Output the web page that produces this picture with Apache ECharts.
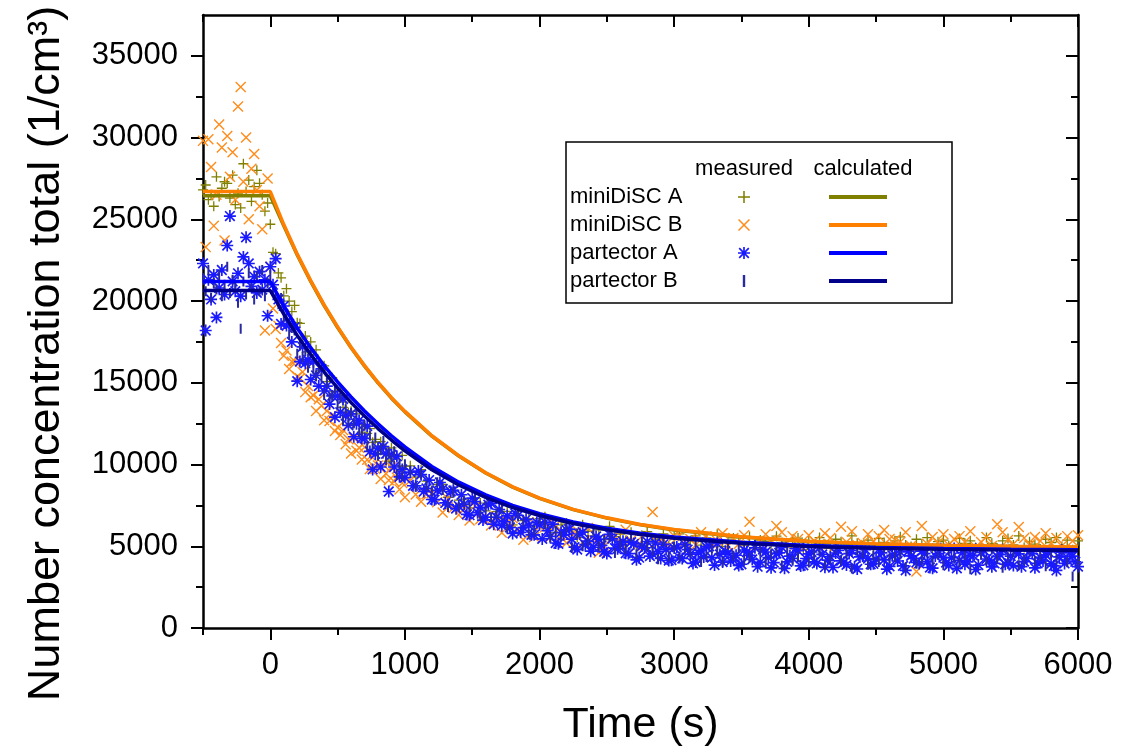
<!DOCTYPE html>
<html>
<head>
<meta charset="utf-8">
<script src="https://cdn.jsdelivr.net/npm/echarts@6.0.0/dist/echarts.min.js"></script>
<style>
  html, body { margin: 0; padding: 0; background: #fff; }
  #chart { width: 1143px; height: 755px; }
</style>
</head>
<body>
<div id="chart"></div>
<script>
// sampling times of the measured series (s)
const sampleTimes = [
  -500, -480, -460, -440, -420, -400, -380, -360, -340, -320,
  -300, -280, -260, -240, -220, -200, -180, -160, -140, -120,
  -100, -80, -60, -40, -20, 0, 20, 40, 60, 80,
  100, 120, 140, 160, 180, 200, 220, 240, 260, 280,
  300, 320, 340, 360, 380, 400, 420, 440, 460, 480,
  500, 520, 540, 560, 580, 600, 620, 640, 660, 680,
  700, 720, 740, 760, 780, 800, 820, 840, 860, 880,
  900, 920, 940, 960, 980, 1000,
  1040, 1080, 1120, 1160, 1200, 1240, 1280, 1320, 1360, 1400,
  1440, 1480, 1520, 1560, 1600, 1640, 1680, 1720, 1760, 1800,
  1840, 1880, 1920, 1960, 2000, 2040, 2080, 2120, 2160, 2200,
  2240, 2280, 2320, 2360, 2400, 2440, 2480, 2520, 2560, 2600,
  2640, 2680, 2720, 2760, 2800, 2840, 2880, 2920, 2960, 3000,
  3040, 3080, 3120, 3160, 3200, 3240, 3280, 3320, 3360, 3400,
  3440, 3480, 3520, 3560, 3600, 3640, 3680, 3720, 3760, 3800,
  3840, 3880, 3920, 3960, 4000, 4040, 4080, 4120, 4160, 4200,
  4240, 4280, 4320, 4360, 4400, 4440, 4480, 4520, 4560, 4600,
  4640, 4680, 4720, 4760, 4800, 4840, 4880, 4920, 4960, 5000,
  5040, 5080, 5120, 5160, 5200, 5240, 5280, 5320, 5360, 5400,
  5440, 5480, 5520, 5560, 5600, 5640, 5680, 5720, 5760, 5800,
  5840, 5880, 5920, 5960, 6000
];

// partector A logs twice as often after the first 1000 s
const extraTimes = [
  1060, 1100, 1140, 1180, 1220, 1260, 1300, 1340, 1380, 1420,
  1460, 1500, 1540, 1580, 1620, 1660, 1700, 1740, 1780, 1820,
  1860, 1900, 1940, 1980, 2020, 2060, 2100, 2140, 2180, 2220,
  2260, 2300, 2340, 2380, 2420, 2460, 2500, 2540, 2580, 2620,
  2660, 2700, 2740, 2780, 2820, 2860, 2900, 2940, 2980, 3020,
  3060, 3100, 3140, 3180, 3220, 3260, 3300, 3340, 3380, 3420,
  3460, 3500, 3540, 3580, 3620, 3660, 3700, 3740, 3780, 3820,
  3860, 3900, 3940, 3980, 4020, 4060, 4100, 4140, 4180, 4220,
  4260, 4300, 4340, 4380, 4420, 4460, 4500, 4540, 4580, 4620,
  4660, 4700, 4740, 4780, 4820, 4860, 4900, 4940, 4980, 5020,
  5060, 5100, 5140, 5180, 5220, 5260, 5300, 5340, 5380, 5420,
  5460, 5500, 5540, 5580, 5620, 5660, 5700, 5740, 5780, 5820,
  5860, 5900, 5940, 5980
];

// measured number concentration (1/cm3)
const miniDiscA = [
  26800, 27100, 26200, 26500, 25800, 27600, 26400, 26900, 27300, 27200,
  26300, 27700, 25900, 26600, 25700, 28400, 26700, 27400, 26100, 27000,
  28000, 27200, 26500, 25500, 26000, 24700, 22980, 22900, 21720, 21420,
  20320, 20760, 20000, 19360, 19740, 18680, 18630, 17740, 17860, 16900,
  17500, 16720, 17020, 16240, 15750, 16040, 15070, 15420, 15310, 14470,
  14240, 14560, 13500, 13820, 13180, 13260, 12460, 13100, 12720, 11980,
  12440, 11900, 12200, 11360, 11540, 11120, 11400, 10660, 10940, 10200,
  11020, 10350, 10520, 9910, 10560, 9890,
  9920, 9230, 9680, 8990, 8420, 8780, 8780, 8000, 8600, 7820,
  7880, 7340, 7940, 7640, 7160, 7770, 7120, 6710, 7140, 6310,
  7130, 6570, 6670, 6230, 6690, 6810, 6140, 5840, 6310, 6430,
  6000, 5530, 6320, 5920, 5630, 6000, 5410, 6220, 5590, 5740,
  5350, 5860, 5040, 5670, 5890, 5330, 5430, 5760, 5020, 5600,
  5760, 5200, 5340, 5630, 5070, 5510, 5200, 5740, 4980, 5370,
  5510, 5200, 5050, 5590, 4890, 5380, 5280, 5070, 5620, 5210,
  4960, 5410, 5500, 4800, 5350, 5080, 5530, 5130, 4880, 5430,
  5280, 4980, 5630, 5180, 5030, 5380, 4830, 5480, 5230, 4930,
  5330, 5580, 5080, 4980, 5430, 5130, 5530, 4880, 5280, 5380,
  5030, 4780, 5480, 5180, 5330, 4930, 5030, 5530, 5180, 4880,
  5330, 5480, 5080, 5630, 4930, 5280, 5130, 4830, 5430, 5230,
  5530, 4980, 5380, 4780, 5330
];

const miniDiscB = [
  29800, 23300, 29900, 28200, 24600, 26500, 30800, 29400, 23700, 30100,
  27600, 29100, 26200, 31900, 33100, 27300, 30000, 25000, 28100, 29000,
  26800, 25800, 24400, 18200, 27500, 22100, 19550, 18290, 18490, 17430,
  16650, 16980, 15840, 16290, 16320, 15390, 15280, 15660, 14430, 14810,
  14120, 14220, 13270, 14000, 13590, 12710, 13280, 12660, 13020, 12050,
  12270, 11810, 12120, 11240, 11550, 10670, 11630, 10840, 11030, 10310,
  11060, 10290, 9730, 10430, 9730, 9940, 9120, 9980, 9440, 9040,
  9830, 8960, 9210, 8480, 8870, 8000,
  9030, 8170, 7730, 8200, 8250, 7690, 7060, 7900, 7340, 6920,
  7310, 6580, 7460, 6660, 6770, 6270, 6820, 5830, 6520, 6720,
  6030, 5400, 6470, 5570, 6210, 6160, 5550, 6280, 5670, 5200,
  5780, 5960, 5230, 6110, 5370, 4600, 5030, 5850, 5620, 5180,
  6010, 5360, 5000, 5610, 4760, 7100, 5230, 5430, 5010, 5630,
  5680, 5260, 5440, 5080, 5860, 5620, 5200, 5320, 5800, 5020,
  5500, 5140, 5680, 6500, 4960, 5260, 5740, 5380, 6240, 5860,
  5200, 5620, 5440, 4900, 5680, 5320, 5140, 5800, 5500, 5020,
  6200, 5260, 5920, 5080, 5200, 5740, 5320, 5620, 6000, 5440,
  5380, 5260, 5860, 5020, 3450, 6240, 5140, 5560, 5200, 5740,
  5080, 5440, 5620, 5260, 5920, 4960, 5260, 5560, 5020, 6350,
  5860, 5380, 5140, 6180, 5500, 5080, 5560, 5320, 5800, 5200,
  5500, 5020, 5620, 5320, 5680
];

const partectorA = [
  22300, 18200, 21300, 20100, 21600, 19000, 20800, 21900, 20400, 23400,
  25200, 21200, 20600, 21700, 20300, 22700, 23900, 22300, 20900, 21500,
  20500, 21800, 20700, 21300, 19100, 22100, 21000, 22600, 20100, 18600,
  19700, 18500, 18600, 17500, 18400, 15100, 16300, 17200, 16200, 16400,
  15200, 16300, 15450, 14800, 15850, 14500, 14800, 13700, 14200, 12900,
  14200, 13200, 14000, 13000, 12400, 13100, 11700, 12500, 12700, 11600,
  11600, 12350, 10800, 9700, 10650, 11000, 9850, 11100, 10650, 8350,
  10600, 9850, 10500, 9250, 9700, 9200,
  9540, 8700, 9380, 8540, 7860, 8420, 8500, 7540, 8420, 7460,
  7580, 6900, 7740, 7380, 6780, 7620, 6780, 6260, 6860, 5780,
  6880, 6140, 6280, 5700, 6320, 6480, 5600, 5200, 5840, 6000,
  5440, 4800, 5860, 5320, 4940, 5440, 4660, 5730, 4890, 5090,
  4570, 5250, 4170, 5010, 5290, 4540, 4670, 5120, 4130, 4890,
  4310, 5100, 4520, 4030, 4730, 4960, 4300, 5170, 4030, 4580,
  4320, 3830, 4770, 4440, 4910, 4020, 4650, 3680, 4550, 4930,
  4040, 4260, 4730, 3840, 4540, 4050, 4930, 3720, 4360, 4590,
  4110, 3860, 4740, 3610, 4410, 4250, 3930, 4810, 4170, 3770,
  4490, 4650, 3530, 4410, 4010, 4700, 4060, 3660, 4540, 4300,
  3820, 4860, 4140, 3900, 4460, 3580, 4620, 4220, 3740, 4380,
  4780, 3980, 3820, 4540, 4060, 4720, 3680, 4320, 4480, 3920,
  3520, 4640, 4160, 4400, 3760
];

const partectorAExtra = [
  8700, 9600, 8350, 9050, 7850, 8900, 7650, 8350, 7300, 8150,
  6950, 7950, 7050, 6600, 7550, 6350, 7250, 6500, 6150, 7000,
  5850, 6650, 5700, 6450, 5450, 5950, 6350, 5150, 5700, 6050,
  4950, 5750, 5100, 4700, 5600, 5050, 4550, 5450, 4850, 5300,
  4550, 5150, 4300, 4900, 4400, 5200, 4250, 4800, 4150, 4950,
  4250, 4800, 3950, 4600, 4350, 5000, 3850, 4500, 4700, 4100,
  4450, 3900, 4650, 4200, 3750, 4800, 4300, 4000, 4600, 3650,
  4400, 4850, 3800, 4250, 4650, 3950, 4500, 4150, 3700, 4750,
  4000, 4550, 3750, 4350, 4800, 3900, 4200, 4600, 3600, 4450,
  4100, 3800, 4700, 4250, 3950, 4550, 3700, 4400, 4850, 4000,
  4300, 3650, 4600, 4050, 4450, 3850, 4750, 4150, 3950, 4500,
  3900, 4400, 4700, 3750, 4250, 4550, 3950, 4100, 4650, 3800,
  4350, 3950, 4600, 4050
];

const partectorB = [
  21400, 20600, 21900, 20200, 21100, 20700, 21600, 20300, 21000, 22100,
  20500, 21300, 20800, 19900, 18300, 21200, 20400, 21700, 20900, 20100,
  21500, 20600, 21900, 20300, 21100, 21600, 20560, 20580, 19800, 20180,
  19040, 19220, 17940, 18360, 18200, 16780, 17280, 16580, 16940, 15920,
  16840, 15820, 15410, 15880, 15310, 14260, 15020, 14100, 14220, 14660,
  13660, 14100, 12700, 13380, 12620, 13140, 12540, 13220, 11980, 12100,
  12380, 11110, 11760, 11160, 11650, 10540, 10870, 11440, 10250, 10740,
  10240, 10810, 9380, 10030, 9320, 10020,
  9640, 8640, 9400, 8720, 8360, 8920, 8440, 7400, 8280, 7400,
  7760, 7400, 8080, 6840, 7440, 6760, 6960, 7320, 6080, 6520,
  6900, 6560, 5740, 5960, 6660, 6340, 5540, 5940, 5620, 6180,
  4900, 5780, 5000, 5340, 6000, 4980, 5400, 5590, 4590, 5110,
  4830, 5590, 4510, 5270, 4990, 4720, 4210, 5300, 4390, 4990,
  4330, 4880, 4620, 5090, 4030, 4340, 4880, 4710, 4050, 5080,
  4420, 4890, 4150, 4300, 5090, 4680, 4030, 4500, 4890, 3830,
  4700, 4120, 4350, 5060, 4000, 4470, 4710, 3820, 4220, 4850,
  4130, 4520, 3640, 4750, 4590, 3870, 4430, 4030, 4910, 4270,
  4350, 4510, 3710, 4830, 3950, 4160, 4640, 4080, 4560, 3840,
  4720, 4240, 4000, 4480, 3600, 4880, 4480, 4080, 4800, 4240,
  3680, 4320, 4640, 3840, 4160, 4740, 4100, 4420, 3780, 4580,
  4180, 4820, 4020, 3150, 3940
];

// calculated curves
const fitTimes = [-500, 0, 100, 200, 300, 400, 500, 600, 700, 800, 900, 1000,
  1200, 1400, 1600, 1800, 2000, 2250, 2500, 2750, 3000, 3500, 4000, 4500, 5000, 5500, 6000];
const fitMiniDiscA = [26440, 26440, 24600, 22820, 21200, 19720, 18380, 17140, 16020, 14990, 14060, 13220,
  11740, 10520, 9480, 8620, 7930, 7240, 6720, 6310, 6000, 5560, 5290, 5130, 5040, 4980, 4940];
const fitMiniDiscB = [26700, 26700, 24680, 22870, 21250, 19770, 18420, 17180, 16050, 15020, 14090, 13250,
  11760, 10540, 9500, 8640, 7950, 7260, 6740, 6330, 6020, 5580, 5310, 5150, 5060, 5000, 4960];
const fitPartectorA = [21190, 21190, 19700, 18350, 17150, 16050, 15050, 14130, 13280, 12490, 11760, 11080,
  9880, 8920, 8140, 7500, 6990, 6490, 6100, 5800, 5570, 5240, 5050, 4930, 4860, 4820, 4790];
const fitPartectorB = [20640, 20640, 19200, 17900, 16730, 15660, 14690, 13800, 12970, 12200, 11500, 10840,
  9680, 8750, 7990, 7370, 6880, 6390, 6010, 5720, 5490, 5180, 4990, 4880, 4810, 4765, 4740];

const xMajor = [0, 1000, 2000, 3000, 4000, 5000, 6000];
const xMinor = [-500, 500, 1500, 2500, 3500, 4500, 5500];
const yMajor = [0, 5000, 10000, 15000, 20000, 25000, 30000, 35000];
const yMinor = [2500, 7500, 12500, 17500, 22500, 27500, 32500];

const names = ['miniDiSC A', 'miniDiSC B', 'partector A', 'partector B'];
const fitNames = ['miniDiSC A calculated', 'miniDiSC B calculated', 'partector A calculated', 'partector B calculated'];

const FONT = "'Liberation Sans', Arial, sans-serif";

// marker shapes in a 10x10 box
const PLUS = 'path://M4.35,0h1.3v10h-1.3z M0,4.35h10v1.3h-10z';
const CROSS = 'path://M0,0.9L0.9,0L10,9.1L9.1,10Z M9.1,0L10,0.9L0.9,10L0,9.1Z';
const STAR = 'path://M4.3,0h1.4v10h-1.4z M0,4.3h10v1.4h-10z M0.5,1.5L1.5,0.5L9.5,8.5L8.5,9.5Z M8.5,0.5L9.5,1.5L1.5,9.5L0.5,8.5Z';
const BAR = 'path://M0,0h0.01v0.01h-0.01z M9.99,9.99h0.01v0.01h-0.01z M4,0h2v10h-2z';

function pairUp(values) {
  return sampleTimes.map((t, i) => [t, values[i]]);
}
function fitPairs(values) {
  return fitTimes.map((t, i) => [t, values[i]]);
}
function plain(v) {
  return String(v);
}

const partectorAData = pairUp(partectorA).concat(extraTimes.map((t, i) => [t, partectorAExtra[i]]));

const black = { color: '#000', width: 2 };

function xAxisOf(position, ticks, len, inside, withLine) {
  return {
    type: 'value', min: -500, max: 6000, position: position,
    axisLine: { show: withLine, onZero: false, lineStyle: { color: '#000', width: 2.5 } },
    axisTick: { show: true, inside: inside, length: len, customValues: ticks, lineStyle: black },
    axisLabel: { show: false },
    splitLine: { show: false }
  };
}
function yAxisOf(position, ticks, len, inside, withLine) {
  return {
    type: 'value', min: 0, max: 37500, position: position,
    axisLine: { show: withLine, onZero: false, lineStyle: { color: '#000', width: 2.5 } },
    axisTick: { show: true, inside: inside, length: len, customValues: ticks, lineStyle: black },
    axisLabel: { show: false },
    splitLine: { show: false }
  };
}

const xMain = xAxisOf('bottom', xMajor, 12, false, true);
xMain.axisLabel = { show: true, customValues: xMajor, formatter: plain, color: '#000', fontSize: 31, fontFamily: FONT, margin: 22 };
xMain.name = 'Time (s)';
xMain.nameLocation = 'middle';
xMain.nameGap = 76;
xMain.nameTextStyle = { color: '#000', fontSize: 43, fontFamily: FONT };

const yMain = yAxisOf('left', yMajor, 12, false, true);
yMain.axisLabel = { show: true, customValues: yMajor, formatter: plain, color: '#000', fontSize: 31, fontFamily: FONT, margin: 25 };
yMain.name = 'Number concentration total (1/cm³)';
yMain.nameLocation = 'middle';
yMain.nameGap = 134;
yMain.nameTextStyle = { color: '#000', fontSize: 45, fontFamily: FONT, padding: [0, 64, 0, 0] };

const chart = echarts.init(document.getElementById('chart'));

chart.setOption({
  animation: false,
  backgroundColor: '#fff',
  grid: { left: 203, right: 65, top: 15, bottom: 127 },
  xAxis: [
    xMain,
    xAxisOf('bottom', xMinor, 7, false, false),
    xAxisOf('top', xMajor, 12, true, true),
    xAxisOf('top', xMinor, 7, true, false)
  ],
  yAxis: [
    yMain,
    yAxisOf('left', yMinor, 7, false, false),
    yAxisOf('right', yMajor, 12, true, true),
    yAxisOf('right', yMinor, 7, true, false)
  ],
  legend: [
    {
      data: names, orient: 'vertical', left: 738, top: 191, padding: 0,
      itemWidth: 12, itemHeight: 12, itemGap: 16, selectedMode: false,
      formatter: function () { return ''; }, textStyle: { fontSize: 8 }, z: 8
    },
    {
      // calculated curves: plain bars as line samples
      data: fitNames, orient: 'vertical', left: 829, top: 195, padding: 0, icon: 'rect',
      itemWidth: 58, itemHeight: 4, itemGap: 24, selectedMode: false,
      formatter: function () { return ''; }, textStyle: { fontSize: 4, lineHeight: 4 }, z: 8
    }
  ],
  graphic: [
    { type: 'rect', z: 5, shape: { x: 566, y: 142, width: 386, height: 161 },
      style: { fill: '#fff', stroke: '#000', lineWidth: 1.5 } },
    { type: 'text', z: 7, x: 744, y: 169, style: { text: 'measured', fontSize: 22, fontFamily: FONT, fill: '#000', align: 'center', verticalAlign: 'middle' } },
    { type: 'text', z: 7, x: 863, y: 169, style: { text: 'calculated', fontSize: 22, fontFamily: FONT, fill: '#000', align: 'center', verticalAlign: 'middle' } },
    { type: 'text', z: 7, x: 570, y: 197, style: { text: names[0], fontSize: 22, fontFamily: FONT, fill: '#000', verticalAlign: 'middle' } },
    { type: 'text', z: 7, x: 570, y: 225, style: { text: names[1], fontSize: 22, fontFamily: FONT, fill: '#000', verticalAlign: 'middle' } },
    { type: 'text', z: 7, x: 570, y: 253, style: { text: names[2], fontSize: 22, fontFamily: FONT, fill: '#000', verticalAlign: 'middle' } },
    { type: 'text', z: 7, x: 570, y: 281, style: { text: names[3], fontSize: 22, fontFamily: FONT, fill: '#000', verticalAlign: 'middle' } }
  ],
  series: [
    { name: names[0], type: 'scatter', symbol: PLUS, symbolSize: 10, z: 2,
      itemStyle: { color: '#808000', opacity: 1 }, data: pairUp(miniDiscA) },
    { name: names[1], type: 'scatter', symbol: CROSS, symbolSize: 11, z: 2,
      itemStyle: { color: '#ff8c1a', opacity: 1 }, data: pairUp(miniDiscB) },
    { name: names[2], type: 'scatter', symbol: STAR, symbolSize: 12, z: 2,
      itemStyle: { color: '#1a1aff', opacity: 1 }, data: partectorAData },
    { name: names[3], type: 'scatter', symbol: BAR, symbolSize: 10, z: 2,
      itemStyle: { color: '#2a2aa0', opacity: 1 }, data: pairUp(partectorB) },
    { name: fitNames[0], type: 'line', symbol: 'none', z: 3,
      itemStyle: { color: '#808000' }, lineStyle: { color: '#808000', width: 3.5 }, data: fitPairs(fitMiniDiscA) },
    { name: fitNames[1], type: 'line', symbol: 'none', z: 3,
      itemStyle: { color: '#ff8000' }, lineStyle: { color: '#ff8000', width: 3.5 }, data: fitPairs(fitMiniDiscB) },
    { name: fitNames[2], type: 'line', symbol: 'none', z: 3,
      itemStyle: { color: '#0000ff' }, lineStyle: { color: '#0000ff', width: 3.5 }, data: fitPairs(fitPartectorA) },
    { name: fitNames[3], type: 'line', symbol: 'none', z: 3,
      itemStyle: { color: '#00008b' }, lineStyle: { color: '#00008b', width: 3.5 }, data: fitPairs(fitPartectorB) }
  ]
});
</script>
</body>
</html>
